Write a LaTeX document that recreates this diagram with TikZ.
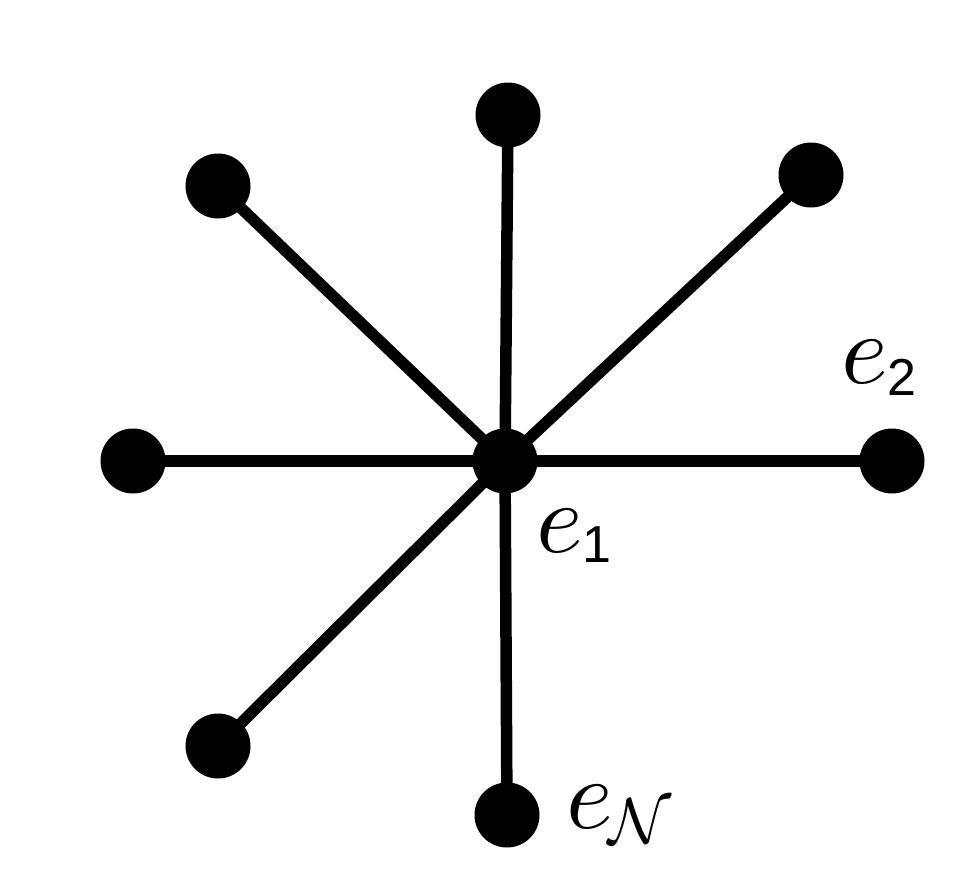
\documentclass[tikz,border=0pt]{standalone}
\usepackage{graphicx}
\usepackage{fontspec}
\newfontfamily\arialf{Liberation Sans}
\tikzset{
  dot/.style={circle, fill=black, inner sep=0pt, minimum size=65pt},
  edge/.style={line width=11.5pt, black},
  lab/.style={anchor=base west, inner sep=0pt}
}
\newcommand{\bige}{\scalebox{10}{$e$}}
\newcommand{\subfs}{\fontsize{52}{52}\selectfont}
\begin{document}
\begin{tikzpicture}[x=1pt,y=-1pt]
\useasboundingbox (0,0) rectangle (972,886);
\node[dot] (c) at (505,461) {};
\node[dot] (t) at (508,115) {};
\node[dot] (tl) at (218,186) {};
\node[dot] (tr) at (811,175) {};
\node[dot] (l) at (133,461) {};
\node[dot] (r) at (892,461) {};
\node[dot] (bl) at (218,746) {};
\node[dot] (b) at (507,815) {};
\draw[edge] (c.center) -- (t.center);
\draw[edge] (c.center) -- (tl.center);
\draw[edge] (c.center) -- (tr.center);
\draw[edge] (c.center) -- (l.center);
\draw[edge] (c.center) -- (r.center);
\draw[edge] (c.center) -- (bl.center);
\draw[edge] (c.center) -- (b.center);
\node[lab] (e2) at (841,383) {\bige\raisebox{-12pt}{\subfs\arialf 2}};
\node[lab] (e1) at (536,552) {\bige\raisebox{-10pt}{\subfs\arialf 1}};
\node[lab] (eN) at (566,828) {\bige\hspace{-4pt}\raisebox{-15pt}{\scalebox{6.5}{$\mathcal{N}$}}};
\end{tikzpicture}
\end{document}
